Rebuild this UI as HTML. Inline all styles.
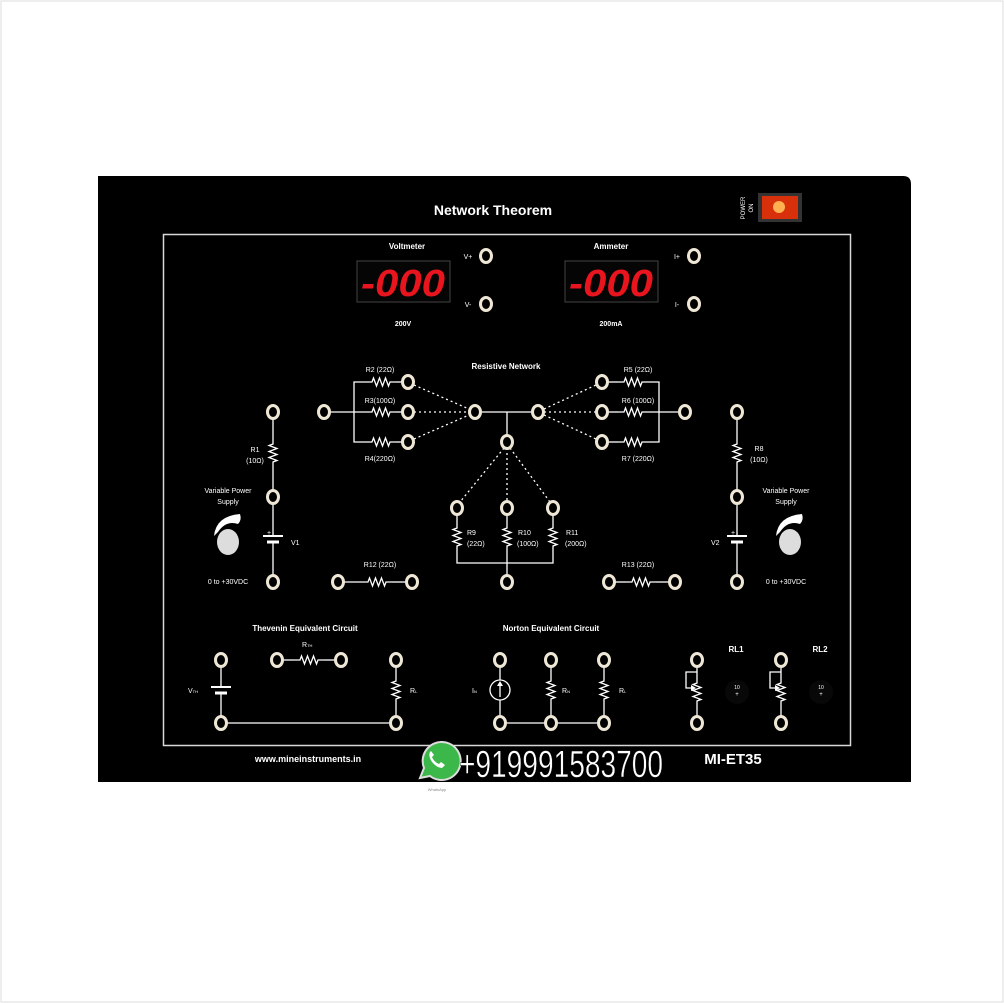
<!DOCTYPE html>
<html><head><meta charset="utf-8"><style>
html,body{margin:0;padding:0;background:#fff}
svg{display:block}
text{font-family:"Liberation Sans",sans-serif;fill:#fff}
</style></head><body>
<svg width="1004" height="1003" viewBox="0 0 1004 1003" xmlns="http://www.w3.org/2000/svg">
<defs>
<path id="rh" d="M0 0 h6 l1.5,-4 l3,8 l3,-8 l3,8 l3,-8 l3,8 l1.5,-4 h6" fill="none" stroke="#fff" stroke-width="1.3"/>
<path id="rv" d="M0 0 v6 l-4,1.5 l8,3 l-8,3 l8,3 l-8,3 l8,3 l-4,1.5 v6" fill="none" stroke="#fff" stroke-width="1.3"/>
<g id="t"><ellipse rx="5.5" ry="6.5" fill="#000" stroke="#efe7d6" stroke-width="3"/></g>
<g id="bat"><line x1="-10" y1="0" x2="10" y2="0" stroke="#fff" stroke-width="2"/><line x1="-6" y1="6" x2="6" y2="6" stroke="#fff" stroke-width="3"/></g>
</defs>
<rect x="0" y="0" width="1004" height="1003" fill="#fff"/>
<rect x="1" y="1" width="1002" height="1001" fill="none" stroke="#ddd"/>
<path d="M98 176 H903 Q911 176 911 184 V782 H98 Z" fill="#000"/>
<rect x="163.5" y="234.5" width="687" height="511" fill="none" stroke="#d8d8d8" stroke-width="1.5"/>
<text x="493" y="215" font-size="14" font-weight="bold" text-anchor="middle">Network Theorem</text>
<text transform="translate(745,208) rotate(-90)" font-size="6" text-anchor="middle">POWER</text>
<text transform="translate(753,208) rotate(-90)" font-size="6" text-anchor="middle">ON</text>
<rect x="758" y="193" width="44" height="29" fill="#333"/>
<rect x="762" y="196" width="36" height="23" fill="#d8300a"/>
<circle cx="779" cy="207" r="6" fill="#ffb050"/>

<!-- meters -->
<text x="407" y="249" font-size="8" font-weight="bold" text-anchor="middle">Voltmeter</text>
<text x="611" y="249" font-size="8" font-weight="bold" text-anchor="middle">Ammeter</text>
<rect x="357" y="261" width="93" height="41" fill="#050505" stroke="#444"/>
<rect x="565" y="261" width="93" height="41" fill="#050505" stroke="#444"/>
<text x="361" y="296" font-size="38" font-weight="bold" font-style="italic" textLength="84" lengthAdjust="spacingAndGlyphs" style="fill:#e8141e;font-family:'Liberation Sans Narrow','Liberation Sans',sans-serif">-000</text>
<text x="569" y="296" font-size="38" font-weight="bold" font-style="italic" textLength="84" lengthAdjust="spacingAndGlyphs" style="fill:#e8141e;font-family:'Liberation Sans Narrow','Liberation Sans',sans-serif">-000</text>
<text x="403" y="326" font-size="7" font-weight="bold" text-anchor="middle">200V</text>
<text x="611" y="326" font-size="7" font-weight="bold" text-anchor="middle">200mA</text>
<text x="468" y="259" font-size="7" text-anchor="middle">V+</text>
<text x="468" y="307" font-size="7" text-anchor="middle">V-</text>
<text x="677" y="259" font-size="7" text-anchor="middle">I+</text>
<text x="677" y="307" font-size="7" text-anchor="middle">I-</text>
<use href="#t" x="486" y="256"/><use href="#t" x="486" y="304"/>
<use href="#t" x="694" y="256"/><use href="#t" x="694" y="304"/>

<!-- resistive network -->
<text x="506" y="369" font-size="8" font-weight="bold" text-anchor="middle">Resistive Network</text>
<g stroke="#fff" stroke-width="1.3" fill="none">
<line x1="330" y1="412" x2="366" y2="412"/>
<polyline points="366,382 354,382 354,442 366,442"/>
<line x1="481" y1="412" x2="532" y2="412"/>
<line x1="507" y1="412" x2="507" y2="436"/>
<polyline points="648,382 659,382 659,442 648,442"/>
<line x1="648" y1="412" x2="679" y2="412"/>
<line x1="396" y1="382" x2="402" y2="382"/><line x1="396" y1="412" x2="402" y2="412"/><line x1="396" y1="442" x2="402" y2="442"/>
<line x1="608" y1="382" x2="618" y2="382"/><line x1="608" y1="412" x2="618" y2="412"/><line x1="608" y1="442" x2="618" y2="442"/>
<g stroke-dasharray="2,3">
<line x1="414" y1="385" x2="469" y2="409"/><line x1="414" y1="412" x2="469" y2="412"/><line x1="414" y1="439" x2="469" y2="415"/>
<line x1="544" y1="409" x2="596" y2="385"/><line x1="544" y1="412" x2="596" y2="412"/><line x1="544" y1="415" x2="596" y2="439"/>
<line x1="504" y1="448" x2="460" y2="502"/><line x1="507" y1="448" x2="507" y2="502"/><line x1="510" y1="448" x2="550" y2="502"/>
</g>
<line x1="457" y1="514" x2="457" y2="522"/><line x1="507" y1="514" x2="507" y2="522"/><line x1="553" y1="514" x2="553" y2="522"/>
<polyline points="457,552 457,563 553,563 553,552"/>
<line x1="507" y1="552" x2="507" y2="576"/>
<line x1="273" y1="418" x2="273" y2="438"/><line x1="273" y1="468" x2="273" y2="491"/>
<line x1="273" y1="503" x2="273" y2="535"/><line x1="273" y1="542" x2="273" y2="576"/>
<line x1="737" y1="418" x2="737" y2="438"/><line x1="737" y1="468" x2="737" y2="491"/>
<line x1="737" y1="503" x2="737" y2="535"/><line x1="737" y1="542" x2="737" y2="576"/>
<line x1="344" y1="582" x2="362" y2="582"/><line x1="392" y1="582" x2="406" y2="582"/>
<line x1="615" y1="582" x2="626" y2="582"/><line x1="656" y1="582" x2="669" y2="582"/>
<line x1="283" y1="660" x2="294" y2="660"/><line x1="324" y1="660" x2="335" y2="660"/>
<line x1="221" y1="666" x2="221" y2="686"/><line x1="221" y1="694" x2="221" y2="717"/>
<line x1="396" y1="666" x2="396" y2="675"/><line x1="396" y1="705" x2="396" y2="717"/>
<line x1="227" y1="723" x2="390" y2="723"/>
<line x1="500" y1="666" x2="500" y2="680"/><line x1="500" y1="700" x2="500" y2="717"/>
<line x1="551" y1="666" x2="551" y2="675"/><line x1="551" y1="705" x2="551" y2="717"/>
<line x1="604" y1="666" x2="604" y2="675"/><line x1="604" y1="705" x2="604" y2="717"/>
<line x1="506" y1="723" x2="545" y2="723"/><line x1="557" y1="723" x2="598" y2="723"/>
<circle cx="500" cy="690" r="10"/>
<line x1="500" y1="697" x2="500" y2="684"/>
<line x1="697" y1="666" x2="697" y2="677"/><line x1="697" y1="707" x2="697" y2="717"/>
<polyline points="697,672 686,672 686,688 692,688"/>
<line x1="781" y1="666" x2="781" y2="677"/><line x1="781" y1="707" x2="781" y2="717"/>
<polyline points="781,672 770,672 770,688 776,688"/>
</g>
<path d="M500 681 l-3,5 h6 z" fill="#fff"/>
<path d="M696 688 l-5,-3 v6 z" fill="#fff"/><path d="M780 688 l-5,-3 v6 z" fill="#fff"/>

<use href="#rh" x="366" y="382"/><use href="#rh" x="366" y="412"/><use href="#rh" x="366" y="442"/>
<use href="#rh" x="618" y="382"/><use href="#rh" x="618" y="412"/><use href="#rh" x="618" y="442"/>
<use href="#rv" x="457" y="522"/><use href="#rv" x="507" y="522"/><use href="#rv" x="553" y="522"/>
<use href="#rv" x="273" y="438"/><use href="#rv" x="737" y="438"/>
<use href="#rh" x="362" y="582"/><use href="#rh" x="626" y="582"/>
<use href="#rh" x="294" y="660"/>
<use href="#rv" x="396" y="675"/><use href="#rv" x="551" y="675"/><use href="#rv" x="604" y="675"/>
<use href="#rv" x="697" y="677"/><use href="#rv" x="781" y="677"/>
<use href="#bat" x="273" y="536"/><use href="#bat" x="737" y="536"/><use href="#bat" x="221" y="687"/>

<g font-size="7">
<text x="380" y="372" text-anchor="middle">R2 (22Ω)</text>
<text x="380" y="403" text-anchor="middle">R3(100Ω)</text>
<text x="380" y="461" text-anchor="middle">R4(220Ω)</text>
<text x="638" y="372" text-anchor="middle">R5 (22Ω)</text>
<text x="638" y="403" text-anchor="middle">R6 (100Ω)</text>
<text x="638" y="461" text-anchor="middle">R7 (220Ω)</text>
<text x="467" y="535">R9</text><text x="467" y="546">(22Ω)</text>
<text x="518" y="535">R10</text><text x="517" y="546">(100Ω)</text>
<text x="566" y="535">R11</text><text x="565" y="546">(200Ω)</text>
<text x="255" y="452" text-anchor="middle">R1</text><text x="255" y="463" text-anchor="middle">(10Ω)</text>
<text x="759" y="451" text-anchor="middle">R8</text><text x="759" y="462" text-anchor="middle">(10Ω)</text>
<text x="291" y="545">V1</text><text x="711" y="545">V2</text>
<text x="267" y="535">+</text><text x="731" y="535">+</text>
<text x="228" y="493" text-anchor="middle">Variable Power</text><text x="228" y="504" text-anchor="middle">Supply</text>
<text x="786" y="493" text-anchor="middle">Variable Power</text><text x="786" y="504" text-anchor="middle">Supply</text>
<text x="228" y="584" text-anchor="middle">0 to +30VDC</text>
<text x="786" y="584" text-anchor="middle">0 to +30VDC</text>
<text x="380" y="567" text-anchor="middle">R12 (22Ω)</text>
<text x="638" y="567" text-anchor="middle">R13 (22Ω)</text>
<text x="188" y="693">V<tspan font-size="4">TH</tspan></text>
<text x="302" y="647">R<tspan font-size="4">TH</tspan></text>
<text x="410" y="693">R<tspan font-size="4">L</tspan></text>
<text x="472" y="693">I<tspan font-size="4">N</tspan></text>
<text x="562" y="693">R<tspan font-size="4">N</tspan></text>
<text x="619" y="693">R<tspan font-size="4">L</tspan></text>
</g>
<g font-size="8" font-weight="bold">
<text x="305" y="631" text-anchor="middle">Thevenin Equivalent Circuit</text>
<text x="551" y="631" text-anchor="middle">Norton Equivalent Circuit</text>
<text x="736" y="652" text-anchor="middle">RL1</text>
<text x="820" y="652" text-anchor="middle">RL2</text>
</g>
<!-- knobs -->
<path d="M214 536 Q216 516 240 514 Q242 520 238 524 Q226 520 218 532 Z" fill="#fff"/>
<ellipse cx="228" cy="542" rx="11" ry="13" fill="#ddd"/>
<path d="M776 536 Q778 516 802 514 Q804 520 800 524 Q788 520 780 532 Z" fill="#fff"/>
<ellipse cx="790" cy="542" rx="11" ry="13" fill="#ddd"/>
<circle cx="737" cy="692" r="12" fill="#080808"/><circle cx="821" cy="692" r="12" fill="#080808"/>
<text x="737" y="689" font-size="5" text-anchor="middle">10</text><text x="737" y="696" font-size="6" text-anchor="middle">+</text>
<text x="821" y="689" font-size="5" text-anchor="middle">10</text><text x="821" y="696" font-size="6" text-anchor="middle">+</text>

<use href="#t" x="324" y="412"/><use href="#t" x="408" y="382"/><use href="#t" x="408" y="412"/><use href="#t" x="408" y="442"/>
<use href="#t" x="475" y="412"/><use href="#t" x="538" y="412"/><use href="#t" x="507" y="442"/>
<use href="#t" x="602" y="382"/><use href="#t" x="602" y="412"/><use href="#t" x="602" y="442"/><use href="#t" x="685" y="412"/>
<use href="#t" x="457" y="508"/><use href="#t" x="507" y="508"/><use href="#t" x="553" y="508"/><use href="#t" x="507" y="582"/>
<use href="#t" x="273" y="412"/><use href="#t" x="273" y="497"/><use href="#t" x="273" y="582"/>
<use href="#t" x="737" y="412"/><use href="#t" x="737" y="497"/><use href="#t" x="737" y="582"/>
<use href="#t" x="338" y="582"/><use href="#t" x="412" y="582"/><use href="#t" x="609" y="582"/><use href="#t" x="675" y="582"/>
<use href="#t" x="221" y="660"/><use href="#t" x="277" y="660"/><use href="#t" x="341" y="660"/><use href="#t" x="396" y="660"/>
<use href="#t" x="221" y="723"/><use href="#t" x="396" y="723"/>
<use href="#t" x="500" y="660"/><use href="#t" x="551" y="660"/><use href="#t" x="604" y="660"/>
<use href="#t" x="500" y="723"/><use href="#t" x="551" y="723"/><use href="#t" x="604" y="723"/>
<use href="#t" x="697" y="660"/><use href="#t" x="697" y="723"/><use href="#t" x="781" y="660"/><use href="#t" x="781" y="723"/>

<text x="308" y="762" font-size="9" font-weight="bold" text-anchor="middle">www.mineinstruments.in</text>
<text x="733" y="764" font-size="15" font-weight="bold" text-anchor="middle">MI-ET35</text>
<path d="M420 778 l4,-10 A19 19 0 1 1 430 776 Z" fill="#3cb84a" stroke="#ddd" stroke-width="2"/>
<path d="M430 752 q-2,4 2,10 q5,6 10,6 l3,-3 l-4,-3 l-2,2 q-5,-2 -7,-7 l2,-2 l-3,-4 z" fill="#fff"/>
<text x="459" y="777" font-size="38" textLength="204" lengthAdjust="spacingAndGlyphs" style="fill:#fff;stroke:#000;stroke-width:0.5;font-family:'Liberation Sans Narrow','Liberation Sans',sans-serif">+919991583700</text>
<text x="437" y="791" font-size="4" text-anchor="middle" style="fill:#888">WhatsApp</text>
</svg>
</body></html>
